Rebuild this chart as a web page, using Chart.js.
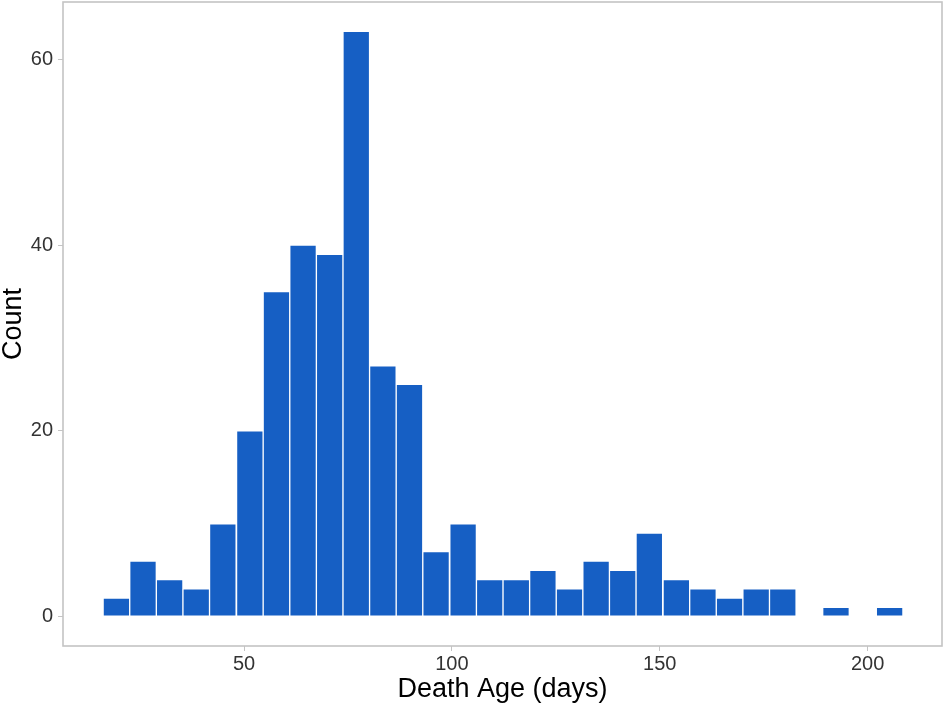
<!DOCTYPE html>
<html>
<head>
<meta charset="utf-8">
<script src="https://cdn.jsdelivr.net/npm/chart.js@4"></script>
<style>
  html, body { margin: 0; padding: 0; background: #fff; }
  #wrap { width: 945px; height: 706px; }
</style>
</head>
<body>
<div id="wrap"><canvas id="histChart"></canvas></div>
<script>
// 히스토그램 데이터
const binCenters = [19.3, 25.7, 32.1, 38.5, 44.9, 51.4, 57.8, 64.2, 70.6, 77.0,
                    83.4, 89.8, 96.2, 102.7, 109.1, 115.5, 121.9, 128.3, 134.7, 141.1,
                    147.5, 154.0, 160.4, 166.8, 173.2, 179.6, 186.0, 192.4, 198.8, 205.3];
const counts = [2, 6, 4, 3, 10, 20, 35, 40, 39, 63,
                27, 25, 7, 10, 4, 4, 5, 3, 6, 5,
                9, 4, 3, 2, 3, 3, 0, 1, 0, 1];
const xTicks = [50, 100, 150, 200];
const yTicks = [0, 20, 40, 60];

/*
 * 패널 테두리 그리기 (ggplot theme_light 스타일)
 */
const panelBorder = {
    id: 'panelBorder',
    afterDraw(chart) {
        const a = chart.chartArea;
        const ctx = chart.ctx;
        ctx.save();
        ctx.strokeStyle = '#c4c4c4';
        ctx.lineWidth = 1.6;
        ctx.strokeRect(a.left, a.top, a.right - a.left, a.bottom - a.top);
        ctx.restore();
    }
};

document.addEventListener("DOMContentLoaded", function() {
    const ctx = document.getElementById('histChart').getContext('2d');

    new Chart(ctx, {
        type: 'bar',
        data: {
            datasets: [{
                data: binCenters.map((x, i) => ({ x: x, y: counts[i] })),
                backgroundColor: '#165FC4',
                borderColor: '#ffffff',
                borderWidth: 1,
                borderSkipped: false,
                barPercentage: 1,
                categoryPercentage: 1
            }]
        },
        options: {
            responsive: true,
            maintainAspectRatio: false,
            animation: false,
            layout: { padding: { top: 2, right: 3, left: 0, bottom: 0 } },
            plugins: { legend: { display: false }, tooltip: { enabled: false } },
            scales: {
                x: {
                    type: 'linear',
                    offset: false,
                    min: 6.45,
                    max: 217.9,
                    afterBuildTicks: s => { s.ticks = xTicks.map(v => ({ value: v })); },
                    afterFit: s => { s.paddingLeft = 0; s.paddingRight = 0; s.height = 60; },
                    grid: { offset: false, drawOnChartArea: false, drawTicks: true, tickLength: 5, color: '#c4c4c4' },
                    border: { display: false },
                    ticks: {
                        font: { family: 'Liberation Sans', size: 20 },
                        color: '#333333',
                        padding: 1,
                        maxRotation: 0
                    },
                    title: {
                        display: true,
                        text: 'Death Age (days)',
                        font: { family: 'Liberation Sans', size: 27 },
                        color: '#000000',
                        padding: 0
                    }
                },
                y: {
                    min: -3.15,
                    max: 66.15,
                    afterBuildTicks: s => { s.ticks = yTicks.map(v => ({ value: v })); },
                    afterFit: s => { s.paddingTop = 0; s.paddingBottom = 0; s.width = 63; },
                    grid: { drawOnChartArea: false, drawTicks: true, tickLength: 5, color: '#c4c4c4' },
                    border: { display: false },
                    ticks: {
                        font: { family: 'Liberation Sans', size: 20 },
                        color: '#333333',
                        padding: 5
                    },
                    title: {
                        display: true,
                        text: 'Count',
                        font: { family: 'Liberation Sans', size: 27, lineHeight: 1.0 },
                        color: '#000000',
                        padding: 0
                    }
                }
            }
        },
        plugins: [panelBorder]
    });
});
</script>
</body>
</html>
